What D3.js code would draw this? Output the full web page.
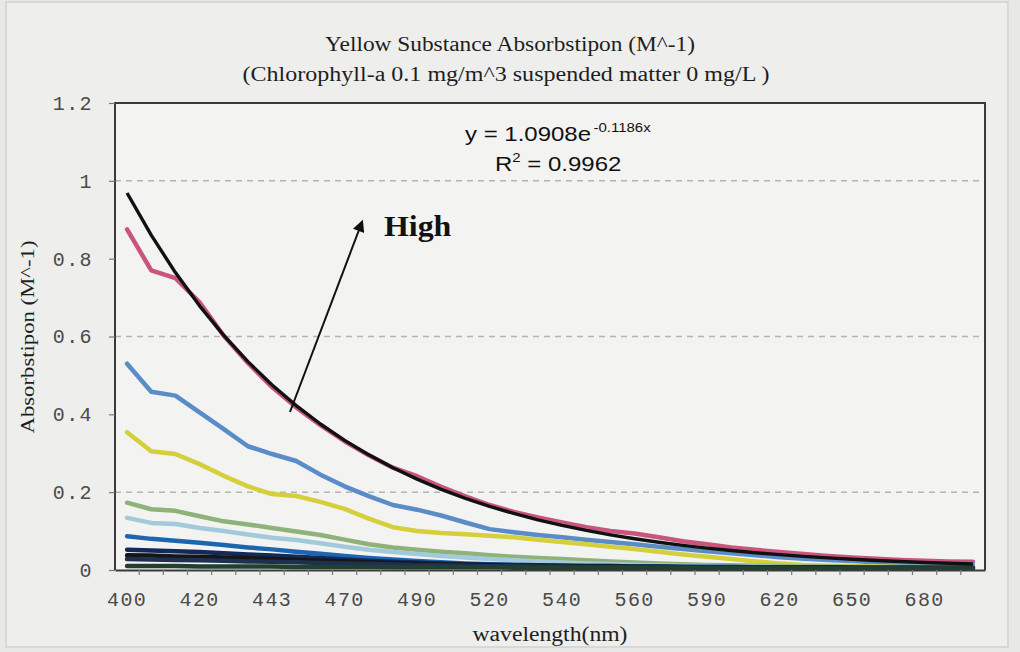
<!DOCTYPE html>
<html>
<head>
<meta charset="utf-8">
<script src="https://cdn.jsdelivr.net/npm/d3@7"></script>
<style>
  html, body { margin: 0; padding: 0; background: #e8e8e6; }
  svg { display: block; }
</style>
</head>
<body>
<svg id="chart" width="1020" height="652"></svg>
<script>
// Wavelength categories (nm); every third one is labelled on the axis
const wavelengths = [400, 405, 412, 420, 430, 435, 443, 450, 460, 470, 475, 480,
                     490, 500, 510, 520, 525, 530, 540, 545, 550, 560, 570, 580,
                     590, 600, 610, 620, 630, 640, 650, 660, 670, 680, 690, 700];
const tickLabels = [400, 420, 443, 470, 490, 520, 540, 560, 590, 620, 650, 680];
const yTicks = [0, 0.2, 0.4, 0.6, 0.8, 1.0, 1.2];
const gridValues = [0.2, 0.6, 1.0];

// Absorption spectra, highest concentration first
const seriesColors = ["#c9557f", "#5a8cc8", "#d4cf3a", "#8fb27a", "#a2cadb",
                      "#1c66b0", "#12295a", "#161616", "#1e2f50", "#21402f"];
const s1 = [0.875, 0.770, 0.750, 0.688, 0.602, 0.532, 0.470, 0.418, 0.372, 0.331, 0.295, 0.263,
            0.241, 0.214, 0.189, 0.167, 0.149, 0.135, 0.122, 0.110, 0.100, 0.094, 0.084, 0.074,
            0.066, 0.058, 0.052, 0.046, 0.041, 0.036, 0.032, 0.029, 0.026, 0.024, 0.022, 0.021];
const s2 = [0.530, 0.458, 0.448, 0.405, 0.362, 0.318, 0.298, 0.280, 0.245, 0.215, 0.190, 0.167,
            0.155, 0.140, 0.122, 0.105, 0.097, 0.090, 0.084, 0.078, 0.072, 0.066, 0.060, 0.054,
            0.048, 0.043, 0.038, 0.033, 0.029, 0.026, 0.023, 0.020, 0.018, 0.017, 0.016, 0.015];
const s3 = [0.354, 0.305, 0.298, 0.272, 0.242, 0.215, 0.195, 0.190, 0.175, 0.157, 0.132, 0.110,
            0.100, 0.095, 0.092, 0.088, 0.084, 0.078, 0.072, 0.066, 0.060, 0.054, 0.047, 0.040,
            0.034, 0.028, 0.022, 0.017, 0.013, 0.011, 0.010, 0.009, 0.008, 0.008, 0.007, 0.007];
const s4 = [0.173, 0.156, 0.152, 0.138, 0.125, 0.117, 0.108, 0.099, 0.090, 0.078, 0.066, 0.058,
            0.052, 0.047, 0.043, 0.038, 0.034, 0.031, 0.028, 0.025, 0.022, 0.019, 0.017, 0.015,
            0.013, 0.012, 0.011, 0.010, 0.009, 0.009, 0.008, 0.008, 0.007, 0.007, 0.007, 0.006];
const s5 = [0.134, 0.121, 0.118, 0.108, 0.100, 0.091, 0.083, 0.077, 0.069, 0.060, 0.052, 0.046,
            0.041, 0.036, 0.032, 0.028, 0.025, 0.022, 0.019, 0.017, 0.015, 0.013, 0.012, 0.011,
            0.010, 0.009, 0.009, 0.008, 0.008, 0.007, 0.007, 0.007, 0.006, 0.006, 0.006, 0.006];
const s6 = [0.087, 0.080, 0.075, 0.070, 0.064, 0.058, 0.053, 0.047, 0.042, 0.036, 0.031, 0.027,
            0.023, 0.020, 0.017, 0.015, 0.013, 0.012, 0.011, 0.010, 0.010, 0.009, 0.009, 0.008,
            0.008, 0.008, 0.007, 0.007, 0.007, 0.007, 0.006, 0.006, 0.006, 0.006, 0.006, 0.006];
const s7 = [0.052, 0.050, 0.048, 0.046, 0.043, 0.040, 0.037, 0.034, 0.031, 0.027, 0.024, 0.021,
            0.019, 0.017, 0.015, 0.014, 0.013, 0.012, 0.011, 0.010, 0.010, 0.009, 0.009, 0.008,
            0.008, 0.008, 0.007, 0.007, 0.007, 0.007, 0.006, 0.006, 0.006, 0.006, 0.006, 0.006];
const s8 = [0.038, 0.037, 0.035, 0.034, 0.032, 0.030, 0.028, 0.026, 0.024, 0.022, 0.020, 0.018,
            0.016, 0.015, 0.013, 0.012, 0.011, 0.010, 0.010, 0.009, 0.009, 0.008, 0.008, 0.008,
            0.007, 0.007, 0.007, 0.006, 0.006, 0.006, 0.006, 0.005, 0.005, 0.005, 0.005, 0.005];
const s9 = [0.028, 0.027, 0.026, 0.025, 0.024, 0.022, 0.021, 0.020, 0.018, 0.017, 0.016, 0.014,
            0.013, 0.012, 0.011, 0.010, 0.010, 0.009, 0.009, 0.008, 0.008, 0.007, 0.007, 0.007,
            0.006, 0.006, 0.006, 0.006, 0.005, 0.005, 0.005, 0.005, 0.005, 0.005, 0.004, 0.004];
const s10 = [0.010, 0.010, 0.010, 0.009, 0.009, 0.009, 0.009, 0.008, 0.008, 0.008, 0.008, 0.007,
             0.007, 0.007, 0.007, 0.007, 0.006, 0.006, 0.006, 0.006, 0.006, 0.006, 0.005, 0.005,
             0.005, 0.005, 0.005, 0.005, 0.005, 0.004, 0.004, 0.004, 0.004, 0.004, 0.004, 0.004];
const seriesValues = [s1, s2, s3, s4, s5, s6, s7, s8, s9, s10];

// Exponential trendline fitted to the top spectrum: y = A * exp(B * x), x = 1..n
const fitA = 1.0908;
const fitB = -0.1186;
const fitR2 = 0.9962;

const svg = d3.select("#chart");
const plot = { left: 115, right: 985, top: 103, bottom: 570 };

// Chart area
svg.append("rect").attr("x", 6).attr("y", 2).attr("width", 1002).attr("height", 645)
  .attr("fill", "#eeeeec").attr("stroke", "#d2d2d0").attr("stroke-width", 1.5);
svg.append("rect").attr("x", plot.left).attr("y", plot.top)
  .attr("width", plot.right - plot.left).attr("height", plot.bottom - plot.top)
  .attr("fill", "#f3f3f2");

const x = d3.scaleBand().domain(wavelengths.map(String))
  .range([plot.left, plot.right]).paddingInner(0).paddingOuter(0);
const xc = w => x(String(w)) + x.bandwidth() / 2;
const y = d3.scaleLinear().domain([0, 1.2]).range([plot.bottom, plot.top]);

// Dashed gridlines
svg.append("g").selectAll("line").data(gridValues).join("line")
  .attr("x1", plot.left).attr("x2", plot.right)
  .attr("y1", d => y(d)).attr("y2", d => y(d))
  .attr("stroke", "#b4b4b4").attr("stroke-width", 1.5).attr("stroke-dasharray", "6,5");

// Spectra
const line = d3.line().x((d, i) => xc(wavelengths[i])).y(d => y(d));
svg.append("g").selectAll("path").data(seriesValues).join("path")
  .attr("d", d => line(d))
  .attr("fill", "none")
  .attr("stroke", (d, i) => seriesColors[i])
  .attr("stroke-width", 4.5)
  .attr("stroke-linejoin", "round").attr("stroke-linecap", "round");

// Trendline from the fitted equation
const trend = wavelengths.map((w, i) => fitA * Math.exp(fitB * (i + 1)));
svg.append("path").attr("d", line(trend))
  .attr("fill", "none").attr("stroke", "#111").attr("stroke-width", 3.4)
  .attr("stroke-linejoin", "round");

// Plot border
svg.append("path")
  .attr("d", `M${plot.left},${plot.bottom}V${plot.top}H${plot.right}V${plot.bottom}`)
  .attr("fill", "none").attr("stroke", "#3a3a3a").attr("stroke-width", 2);

// X axis: labels under every third category, tick marks on category boundaries
const mono = "'Liberation Mono', 'Courier New', monospace";
const xAxis = d3.axisBottom(x)
  .tickValues(tickLabels.map(String))
  .tickSize(0).tickPadding(22);
const gx = svg.append("g").attr("transform", `translate(0,${plot.bottom})`).call(xAxis);
gx.select(".domain").attr("stroke", "#3a3a3a").attr("stroke-width", 2);
gx.selectAll("text")
  .attr("font-family", mono).attr("font-size", 20).attr("fill", "#4a4a4a")
  .attr("letter-spacing", 1.4);
svg.append("g").selectAll("line").data(wavelengths.slice(1)).join("line")
  .attr("x1", d => x(String(d))).attr("x2", d => x(String(d)))
  .attr("y1", plot.bottom).attr("y2", plot.bottom + 5)
  .attr("stroke", "#777").attr("stroke-width", 1.2);

// Y axis
const yAxis = d3.axisLeft(y).tickValues(yTicks)
  .tickFormat(d => d === 0 ? "0" : (Number.isInteger(d) ? String(d) : d.toFixed(1)))
  .tickSize(6).tickPadding(16);
const gy = svg.append("g").attr("transform", `translate(${plot.left},0)`).call(yAxis);
gy.select(".domain").remove();
gy.selectAll(".tick line").attr("stroke", "#777").attr("stroke-width", 1.2);
gy.selectAll("text")
  .attr("font-family", mono).attr("font-size", 20).attr("fill", "#4a4a4a")
  .attr("letter-spacing", 1.4);

// Titles
const serif = "'Liberation Serif', 'Times New Roman', serif";
function stretchedText(txt, cx, by, size, width, opts) {
  const t = svg.append("text")
    .attr("x", cx).attr("y", by).attr("text-anchor", "middle")
    .attr("font-family", serif).attr("font-size", size).attr("fill", "#1e1e1e")
    .attr("textLength", width).attr("lengthAdjust", "spacingAndGlyphs")
    .text(txt);
  if (opts && opts.rotate) t.attr("transform", `rotate(-90,${cx},${by})`);
  return t;
}
stretchedText("Yellow Substance Absorbstipon (M^-1)", 510, 51, 20, 370);
stretchedText("(Chlorophyll-a 0.1 mg/m^3 suspended matter 0 mg/L )", 506, 81, 20, 527);
stretchedText("Absorbstipon (M^-1)", 34, 337, 19, 193, { rotate: true });
stretchedText("wavelength(nm)", 550, 641, 20, 155);

// Trendline equation
const sans = "'Liberation Sans', Arial, sans-serif";
const eq = svg.append("text")
  .attr("transform", "translate(465,141) scale(1.2,1)")
  .attr("font-family", sans).attr("font-size", 20).attr("fill", "#111");
eq.append("tspan").text(`y = ${fitA.toFixed(4)}e`);
eq.append("tspan").attr("dy", -9).attr("font-size", 12.5).attr("dx", 2)
  .text(`-${Math.abs(fitB).toFixed(4)}x`);
const r2 = svg.append("text")
  .attr("transform", "translate(495,171) scale(1.2,1)")
  .attr("font-family", sans).attr("font-size", 20).attr("fill", "#111");
r2.append("tspan").text("R");
r2.append("tspan").attr("dy", -9).attr("font-size", 12.5).text("2");
r2.append("tspan").attr("dy", 9).text(` = ${fitR2.toFixed(4)}`);

// Arrow pointing towards higher concentration
svg.append("defs").append("marker").attr("id", "head")
  .attr("viewBox", "0 0 10 10").attr("refX", 8).attr("refY", 5)
  .attr("markerWidth", 7).attr("markerHeight", 6).attr("markerUnits", "strokeWidth")
  .attr("orient", "auto")
  .append("path").attr("d", "M0,0L10,5L0,10Z").attr("fill", "#111");
svg.append("line").attr("x1", 290).attr("y1", 412).attr("x2", 362).attr("y2", 222)
  .attr("stroke", "#111").attr("stroke-width", 2).attr("marker-end", "url(#head)");
svg.append("text").attr("transform", "translate(384,236) scale(1.1,1)")
  .attr("font-family", serif).attr("font-size", 29).attr("font-weight", "bold")
  .attr("fill", "#111").text("High");
</script>
</body>
</html>
